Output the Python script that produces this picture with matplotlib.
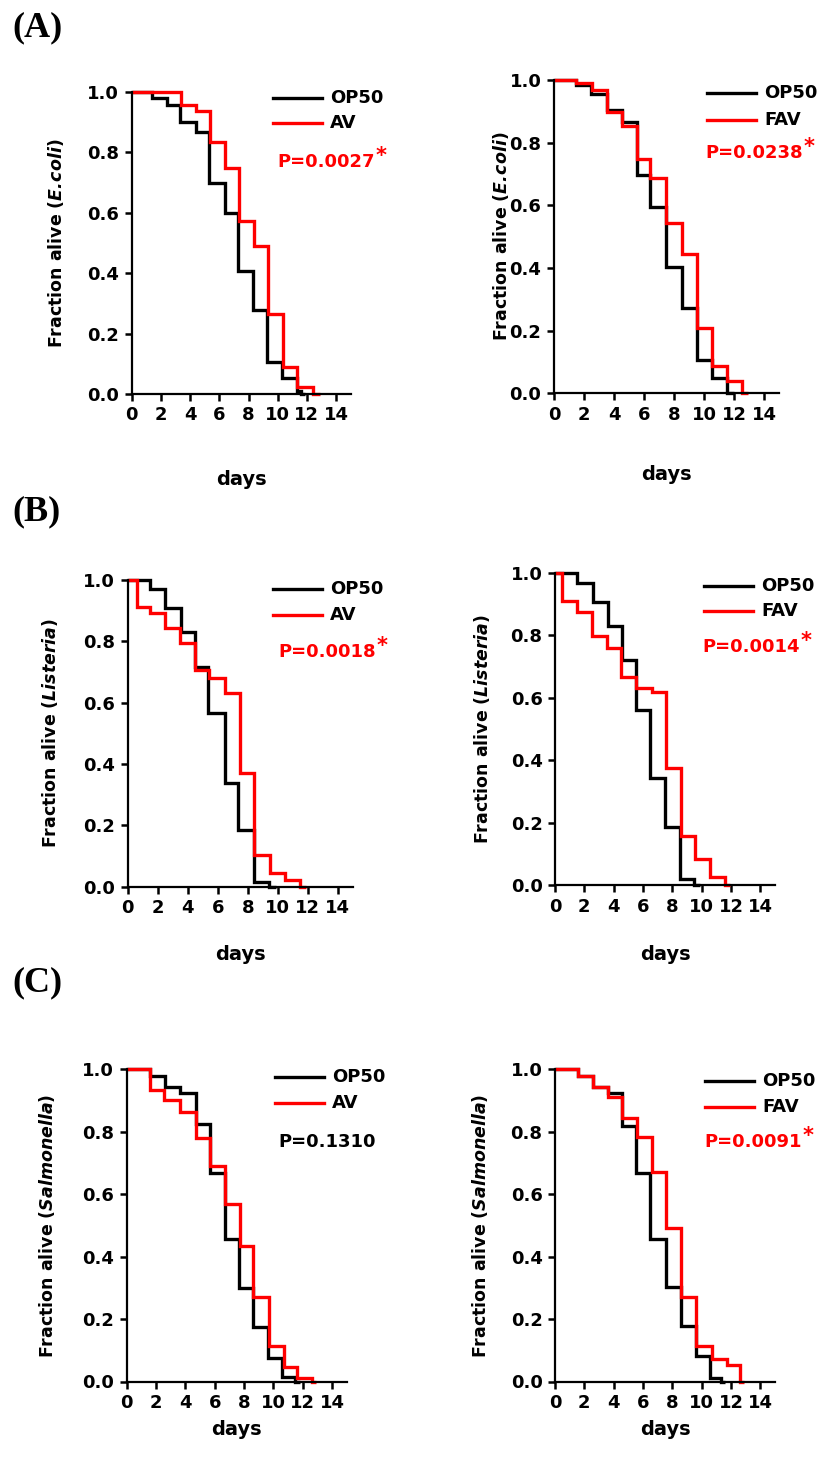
import matplotlib
matplotlib.use("Agg")
import matplotlib.pyplot as plt
from matplotlib.lines import Line2D

W, H = 827, 1464

# ---- survival data (days, fraction alive) ----
# (A) E. coli
a1_op50_t = [0, 1.4, 2.4, 3.3, 4.4, 5.3, 6.4, 7.3, 8.3, 9.3, 10.3, 11.3, 11.6, 11.9]
a1_op50_s = [1.0, 0.978, 0.956, 0.90, 0.868, 0.697, 0.598, 0.408, 0.278, 0.107, 0.052, 0.01, 0.0, 0.0]
a1_av_t = [0, 3.35, 4.4, 5.35, 6.4, 7.35, 8.35, 9.35, 10.35, 11.35, 12.4, 12.9]
a1_av_s = [1.0, 0.956, 0.937, 0.835, 0.746, 0.573, 0.49, 0.265, 0.088, 0.022, 0.0, 0.0]

a2_op50_t = [0, 1.47, 2.44, 3.5, 4.5, 5.55, 6.4, 7.47, 8.5, 9.5, 10.5, 11.55, 12.0]
a2_op50_s = [1.0, 0.984, 0.955, 0.905, 0.867, 0.697, 0.596, 0.404, 0.271, 0.106, 0.048, 0.0, 0.0]
a2_fav_t = [0, 1.47, 2.5, 3.55, 4.5, 5.55, 6.4, 7.47, 8.5, 9.5, 10.5, 11.55, 12.5, 12.9]
a2_fav_s = [1.0, 0.989, 0.968, 0.899, 0.853, 0.747, 0.686, 0.545, 0.445, 0.21, 0.087, 0.04, 0.0, 0.0]

# (B) Listeria
b1_op50_t = [0, 1.49, 2.49, 3.53, 4.5, 5.38, 6.5, 7.38, 8.4, 9.44, 9.9]
b1_op50_s = [1.0, 0.970, 0.91, 0.832, 0.717, 0.565, 0.339, 0.185, 0.016, 0.0, 0.0]
b1_av_t = [0, 0.6, 1.49, 2.49, 3.49, 4.49, 5.44, 6.49, 7.49, 8.44, 9.49, 10.5, 11.5, 11.9]
b1_av_s = [1.0, 0.913, 0.893, 0.842, 0.796, 0.707, 0.679, 0.630, 0.370, 0.103, 0.046, 0.022, 0.0, 0.0]

b2_op50_t = [0, 1.52, 2.57, 3.6, 4.55, 5.5, 6.5, 7.5, 8.5, 9.5, 9.9]
b2_op50_s = [1.0, 0.968, 0.907, 0.831, 0.722, 0.561, 0.342, 0.185, 0.018, 0.0, 0.0]
b2_fav_t = [0, 0.45, 1.48, 2.5, 3.52, 4.5, 5.52, 6.6, 7.57, 8.57, 9.55, 10.57, 11.6, 11.9]
b2_fav_s = [1.0, 0.909, 0.874, 0.797, 0.759, 0.668, 0.631, 0.620, 0.374, 0.157, 0.082, 0.027, 0.0, 0.0]

# (C) Salmonella
c1_op50_t = [0, 1.6, 2.6, 3.6, 4.7, 5.66, 6.7, 7.65, 8.6, 9.6, 10.6, 11.5, 11.8]
c1_op50_s = [1.0, 0.978, 0.944, 0.923, 0.825, 0.667, 0.455, 0.30, 0.175, 0.074, 0.015, 0.0, 0.0]
c1_av_t = [0, 1.6, 2.56, 3.6, 4.7, 5.66, 6.7, 7.7, 8.6, 9.7, 10.7, 11.6, 12.6, 12.9]
c1_av_s = [1.0, 0.933, 0.901, 0.864, 0.779, 0.690, 0.569, 0.434, 0.272, 0.114, 0.045, 0.012, 0.0, 0.0]

c2_op50_t = [0, 1.6, 2.57, 3.6, 4.6, 5.5, 6.5, 7.6, 8.6, 9.6, 10.6, 11.3, 11.6]
c2_op50_s = [1.0, 0.978, 0.944, 0.923, 0.818, 0.667, 0.455, 0.304, 0.178, 0.082, 0.012, 0.0, 0.0]
c2_fav_t = [0, 1.6, 2.57, 3.6, 4.6, 5.6, 6.6, 7.6, 8.6, 9.6, 10.7, 11.7, 12.6, 12.9]
c2_fav_s = [1.0, 0.978, 0.942, 0.91, 0.843, 0.784, 0.672, 0.491, 0.272, 0.114, 0.071, 0.053, 0.0, 0.0]

x_ticks = [0, 2, 4, 6, 8, 10, 12, 14]
y_ticks = [0.0, 0.2, 0.4, 0.6, 0.8, 1.0]

panels = [
    # axes box in pixels: left, top(1.0), right(x=15), bottom(0.0)
    dict(box=(131.7, 91.7, 350.7, 394.0), bug="E.\\!coli", trt="AV", p="P=0.0027", sig=True,
         op=(a1_op50_t, a1_op50_s), tr=(a1_av_t, a1_av_s),
         leg=(273, 98, 123, 277, 162), ylab_x=66, days_y=470),
    dict(box=(554.0, 80.0, 779.0, 393.3), bug="E.\\!coli", trt="FAV", p="P=0.0238", sig=True,
         op=(a2_op50_t, a2_op50_s), tr=(a2_fav_t, a2_fav_s),
         leg=(707, 93, 120, 705, 153), ylab_x=511, days_y=465),
    dict(box=(127.7, 580.0, 352.7, 886.7), bug="Listeria", trt="AV", p="P=0.0018", sig=True,
         op=(b1_op50_t, b1_op50_s), tr=(b1_av_t, b1_av_s),
         leg=(273, 589, 615, 278, 652), ylab_x=60, days_y=945),
    dict(box=(555.0, 573.0, 775.0, 885.0), bug="Listeria", trt="FAV", p="P=0.0014", sig=True,
         op=(b2_op50_t, b2_op50_s), tr=(b2_fav_t, b2_fav_s),
         leg=(704, 586, 611, 702, 647), ylab_x=492, days_y=945),
    dict(box=(126.7, 1069.3, 346.7, 1381.5), bug="Salmonella", trt="AV", p="P=0.1310", sig=False,
         op=(c1_op50_t, c1_op50_s), tr=(c1_av_t, c1_av_s),
         leg=(275, 1077, 1103, 278, 1142), ylab_x=57, days_y=1420),
    dict(box=(555.0, 1069.3, 775.0, 1381.5), bug="Salmonella", trt="FAV", p="P=0.0091", sig=True,
         op=(c2_op50_t, c2_op50_s), tr=(c2_fav_t, c2_fav_s),
         leg=(705, 1081, 1107, 704, 1142), ylab_x=490, days_y=1420),
]

plt.rcParams['font.family'] = ['DejaVu Sans']
plt.rcParams['font.weight'] = 'bold'
plt.rcParams['mathtext.fontset'] = 'dejavusans'

fig = plt.figure(figsize=(W / 100, H / 100), dpi=100)


def fx(x):
    return x / W


def fy(y):
    return 1 - y / H


for p in panels:
    l, t, r, b = p["box"]
    ax = fig.add_axes([fx(l), fy(b), (r - l) / W, (b - t) / H])
    ax.step(p["op"][0], p["op"][1], where="post", color="black", lw=2.4,
            clip_on=False, solid_joinstyle="miter", solid_capstyle="butt")
    ax.step(p["tr"][0], p["tr"][1], where="post", color="#ff0000", lw=2.4,
            clip_on=False, solid_joinstyle="miter", solid_capstyle="butt")
    ax.set_xlim(0, 15)
    ax.set_ylim(0, 1.0)
    ax.set_xticks(x_ticks)
    ax.set_yticks(y_ticks)
    ax.set_yticklabels([f"{v:.1f}" for v in y_ticks])
    for s in ["top", "right"]:
        ax.spines[s].set_visible(False)
    for s in ["left", "bottom"]:
        ax.spines[s].set_linewidth(1.6)
    ax.tick_params(direction="out", length=5, width=1.8, labelsize=13, pad=4)
    for lab in ax.get_xticklabels() + ax.get_yticklabels():
        lab.set_fontweight("bold")

    ax.set_ylabel(r"Fraction alive ($\mathbfit{" + p["bug"] + "}$)", fontsize=12.5,
                  fontweight="bold")
    ax.yaxis.set_label_coords((p["ylab_x"] - l) / (r - l), 0.5)
    ax.set_xlabel("days", fontsize=14, fontweight="bold")
    ax.xaxis.set_label_coords(0.5, -(p["days_y"] - b) / (b - t))

    # legend drawn by hand
    lx, y_op, y_tr, px_, py_ = p["leg"]
    fig.add_artist(Line2D([fx(lx), fx(lx + 49)], [fy(y_op), fy(y_op)], color="black", lw=2.4))
    fig.add_artist(Line2D([fx(lx), fx(lx + 49)], [fy(y_tr), fy(y_tr)], color="#ff0000", lw=2.4))
    fig.text(fx(lx + 57), fy(y_op), "OP50", fontsize=13, fontweight="bold", va="center")
    fig.text(fx(lx + 57), fy(y_tr), p["trt"], fontsize=13, fontweight="bold", va="center")
    pcol = "#ff0000" if p["sig"] else "black"
    ptxt = fig.text(fx(px_), fy(py_), p["p"], fontsize=13, fontweight="bold",
                    va="center", color=pcol)
    if p["sig"]:
        ax.annotate("*", xy=(1, 1), xycoords=ptxt, xytext=(1, -2),
                    textcoords="offset points", fontsize=15, fontweight="bold",
                    color=pcol, va="center", ha="left")

for lab, y in [("(A)", 28), ("(B)", 512), ("(C)", 983)]:
    fig.text(fx(12), fy(y), lab, fontsize=26, fontweight="bold",
             family="Liberation Serif", va="center", ha="left")

fig.savefig("out.png", dpi=100)
